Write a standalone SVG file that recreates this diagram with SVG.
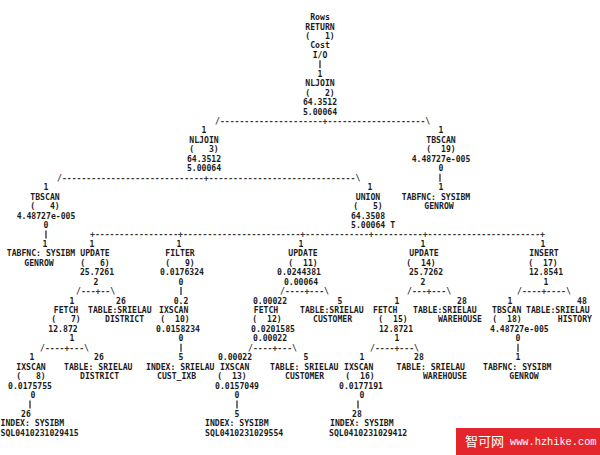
<svg xmlns="http://www.w3.org/2000/svg" width="600" height="455" viewBox="0 0 600 455" xml:space="preserve">
<style>
text { font-family: "DejaVu Sans Mono", "Liberation Mono", monospace; font-size: 8.15px; fill: #1c1c1c; font-weight: bold; white-space: pre; }
.m { text-anchor: middle; }
.e { text-anchor: end; }
.c text { fill: #333; }
.c line { stroke: #2a2a2a; stroke-width: 1.3; }
.wm-cjk { font-family: "Noto Sans CJK SC", sans-serif; font-size: 13px; fill: #fff; font-weight: normal; }
.wm-url { font-family: "Liberation Mono", monospace; font-size: 10.3px; fill: #fff; font-weight: normal; }
</style>
<rect width="600" height="455" fill="#fff"/>

<g id="connectors" class="c">
  <line x1="320" y1="60.3" x2="320" y2="68.3"/>
  <text x="215" y="124">/---------------------+--------------------\</text>
  <text x="57" y="180.7">/-----------------------------+------------------------------\</text>
  <line x1="440" y1="173.7" x2="440" y2="181.7"/>
  <line x1="46" y1="230.4" x2="46" y2="238.4"/>
  <text x="90" y="237.4">+-----------------+------------------------+-------------+----------+-----------------------+</text>
  <text x="76" y="294.1">/---+--\</text>
  <line x1="181" y1="287.1" x2="181" y2="295.1"/>
  <text x="280" y="294.1">/----+---\</text>
  <text x="407" y="294.1">/---+---\</text>
  <text x="517" y="294.1">/----+----\</text>
  <text x="40" y="350.8">/----+---\</text>
  <line x1="181" y1="343.8" x2="181" y2="351.8"/>
  <text x="248" y="350.8">/----+---\</text>
  <text x="370" y="350.8">/----+---\</text>
  <line x1="518" y1="343.8" x2="518" y2="351.8"/>
  <line x1="30" y1="400.5" x2="30" y2="408.5"/>
  <line x1="237" y1="400.5" x2="237" y2="408.5"/>
  <line x1="358" y1="400.5" x2="358" y2="408.5"/>
</g>

<g id="return1">
  <text x="320" y="20" class="m">Rows</text>
  <text x="320" y="29.5" class="m">RETURN</text>
  <text x="320" y="38.9" class="m">(   1)</text>
  <text x="320" y="48.4" class="m">Cost</text>
  <text x="320" y="57.8" class="m">I/O</text>
</g>

<g id="nljoin2">
  <text x="320" y="76.7" class="m">1</text>
  <text x="320" y="86.2" class="m">NLJOIN</text>
  <text x="320" y="95.6" class="m">(   2)</text>
  <text x="320" y="105.1" class="m">64.3512</text>
  <text x="320" y="114.5" class="m">5.00064</text>
</g>

<g id="nljoin3">
  <text x="204" y="133.4" class="m">1</text>
  <text x="204" y="142.9" class="m">NLJOIN</text>
  <text x="204" y="152.3" class="m">(   3)</text>
  <text x="204" y="161.8" class="m">64.3512</text>
  <text x="204" y="171.2" class="m">5.00064</text>
</g>

<g id="tbscan19">
  <text x="441" y="133.4" class="m">1</text>
  <text x="441" y="142.9" class="m">TBSCAN</text>
  <text x="441" y="152.3" class="m">(  19)</text>
  <text x="441" y="161.8" class="m">4.48727e-005</text>
  <text x="441" y="171.2" class="m">0</text>
</g>

<g id="tabfnc19">
  <text x="441" y="190.1" class="m">1</text>
  <text x="436" y="199.6" class="m">TABFNC: SYSIBM</text>
  <text x="439" y="209" class="m">GENROW</text>
</g>

<g id="tbscan4">
  <text x="46" y="190.1" class="m">1</text>
  <text x="45" y="199.6" class="m">TBSCAN</text>
  <text x="45" y="209" class="m">(   4)</text>
  <text x="46" y="218.5" class="m">4.48727e-005</text>
  <text x="46" y="227.9" class="m">0</text>
</g>

<g id="union5">
  <text x="370" y="190.1" class="m">1</text>
  <text x="368" y="199.6" class="m">UNION</text>
  <text x="368" y="209" class="m">(   5)</text>
  <text x="368" y="218.5" class="m">64.3508</text>
  <text x="351" y="227.9">5.00064 T</text>
</g>

<g id="tabfnc4">
  <text x="45" y="246.8" class="m">1</text>
  <text x="41" y="256.3" class="m">TABFNC: SYSIBM</text>
  <text x="39" y="265.7" class="m">GENROW</text>
</g>

<g id="update6">
  <text x="92" y="246.8" class="m">1</text>
  <text x="95" y="256.3" class="m">UPDATE</text>
  <text x="95" y="265.7" class="m">(   6)</text>
  <text x="97" y="275.2" class="m">25.7261</text>
  <text x="96" y="284.6" class="m">2</text>
</g>

<g id="filter9">
  <text x="179" y="246.8" class="m">1</text>
  <text x="180" y="256.3" class="m">FILTER</text>
  <text x="180" y="265.7" class="m">(   9)</text>
  <text x="182" y="275.2" class="m">0.0176324</text>
  <text x="181" y="284.6" class="m">0</text>
</g>

<g id="update11">
  <text x="301" y="246.8" class="m">1</text>
  <text x="303" y="256.3" class="m">UPDATE</text>
  <text x="303" y="265.7" class="m">(  11)</text>
  <text x="299" y="275.2" class="m">0.0244381</text>
  <text x="301" y="284.6" class="m">0.00064</text>
</g>

<g id="update14">
  <text x="423" y="246.8" class="m">1</text>
  <text x="424" y="256.3" class="m">UPDATE</text>
  <text x="421" y="265.7" class="m">(  14)</text>
  <text x="426" y="275.2" class="m">25.7262</text>
  <text x="423" y="284.6" class="m">2</text>
</g>

<g id="insert17">
  <text x="543" y="246.8" class="m">1</text>
  <text x="544" y="256.3" class="m">INSERT</text>
  <text x="543" y="265.7" class="m">(  17)</text>
  <text x="546" y="275.2" class="m">12.8541</text>
  <text x="546" y="284.6" class="m">1</text>
</g>

<g id="fetch7">
  <text x="72" y="303.5" class="m">1</text>
  <text x="66" y="313" class="m">FETCH</text>
  <text x="66" y="322.4" class="m">(   7)</text>
  <text x="63" y="331.9" class="m">12.872</text>
  <text x="72" y="341.3" class="m">1</text>
</g>

<g id="table-district-1">
  <text x="121" y="303.5" class="m">26</text>
  <text x="88" y="313">TABLE:SRIELAU</text>
  <text x="105" y="322.4">DISTRICT</text>
</g>

<g id="ixscan10">
  <text x="181" y="303.5" class="m">0.2</text>
  <text x="159" y="313">IXSCAN</text>
  <text x="175" y="322.4" class="m">(  10)</text>
  <text x="178" y="331.9" class="m">0.0158234</text>
  <text x="181" y="341.3" class="m">0</text>
</g>

<g id="fetch12">
  <text x="270" y="303.5" class="m">0.00022</text>
  <text x="266" y="313" class="m">FETCH</text>
  <text x="267" y="322.4" class="m">(  12)</text>
  <text x="273" y="331.9" class="m">0.0201585</text>
  <text x="270" y="341.3" class="m">0.00022</text>
</g>

<g id="table-customer-1">
  <text x="340" y="303.5" class="m">5</text>
  <text x="300" y="313">TABLE:SRIELAU</text>
  <text x="313" y="322.4">CUSTOMER</text>
</g>

<g id="fetch15">
  <text x="397" y="303.5" class="m">1</text>
  <text x="373" y="313">FETCH</text>
  <text x="393" y="322.4" class="m">(  15)</text>
  <text x="396" y="331.9" class="m">12.8721</text>
  <text x="397" y="341.3" class="m">1</text>
</g>

<g id="table-warehouse-1">
  <text x="462" y="303.5" class="m">28</text>
  <text x="413" y="313">TABLE:SRIELAU</text>
  <text x="482" y="322.4" class="e">WAREHOUSE</text>
</g>

<g id="tbscan18">
  <text x="510" y="303.5" class="m">1</text>
  <text x="492" y="313">TBSCAN</text>
  <text x="507" y="322.4" class="m">(  18)</text>
  <text x="490" y="331.9">4.48727e-005</text>
  <text x="518" y="341.3" class="m">0</text>
</g>

<g id="table-history">
  <text x="582" y="303.5" class="m">48</text>
  <text x="526" y="313">TABLE:SRIELAU</text>
  <text x="592" y="322.4" class="e">HISTORY</text>
</g>

<g id="ixscan8">
  <text x="32" y="360.2" class="m">1</text>
  <text x="31" y="369.7" class="m">IXSCAN</text>
  <text x="31" y="379.1" class="m">(   8)</text>
  <text x="30" y="388.6" class="m">0.0175755</text>
  <text x="33" y="398" class="m">0</text>
</g>

<g id="index-415">
  <text x="26" y="416.9" class="m">26</text>
  <text x="0.5" y="426.4">INDEX: SYSIBM</text>
  <text x="0.5" y="435.8">SQL0410231029415</text>
</g>

<g id="table-district-2">
  <text x="99" y="360.2" class="m">26</text>
  <text x="64" y="369.7">TABLE: SRIELAU</text>
  <text x="80" y="379.1">DISTRICT</text>
</g>

<g id="index-cust-ixb">
  <text x="181" y="360.2" class="m">5</text>
  <text x="146" y="369.7">INDEX: SRIELAU</text>
  <text x="157" y="379.1">CUST_IXB</text>
</g>

<g id="ixscan13">
  <text x="235" y="360.2" class="m">0.00022</text>
  <text x="220" y="369.7">IXSCAN</text>
  <text x="232" y="379.1" class="m">(  13)</text>
  <text x="237" y="388.6" class="m">0.0157049</text>
  <text x="237" y="398" class="m">0</text>
</g>

<g id="index-554">
  <text x="237" y="416.9" class="m">5</text>
  <text x="205" y="426.4">INDEX: SYSIBM</text>
  <text x="205" y="435.8">SQL0410231029554</text>
</g>

<g id="table-customer-2">
  <text x="306" y="360.2" class="m">5</text>
  <text x="270" y="369.7">TABLE: SRIELAU</text>
  <text x="285" y="379.1">CUSTOMER</text>
</g>

<g id="ixscan16">
  <text x="362" y="360.2" class="m">1</text>
  <text x="344" y="369.7">IXSCAN</text>
  <text x="360" y="379.1" class="m">(  16)</text>
  <text x="361" y="388.6" class="m">0.0177191</text>
  <text x="362" y="398" class="m">0</text>
</g>

<g id="index-412">
  <text x="357" y="416.9" class="m">28</text>
  <text x="330" y="426.4">INDEX: SYSIBM</text>
  <text x="329" y="435.8">SQL0410231029412</text>
</g>

<g id="table-warehouse-2">
  <text x="419" y="360.2" class="m">28</text>
  <text x="465" y="369.7" class="e">TABLE: SRIELAU</text>
  <text x="467" y="379.1" class="e">WAREHOUSE</text>
</g>

<g id="tabfnc18">
  <text x="518" y="360.2" class="m">1</text>
  <text x="483" y="369.7">TABFNC: SYSIBM</text>
  <text x="524" y="379.1" class="m">GENROW</text>
</g>

<g id="watermark">
  <rect x="456" y="428" width="144" height="27" fill="#e4262c"/>
  <text x="465" y="445.5" class="wm-cjk">智可网</text>
  <text x="510" y="445" class="wm-url">www.hzhike.com</text>
</g>
</svg>
